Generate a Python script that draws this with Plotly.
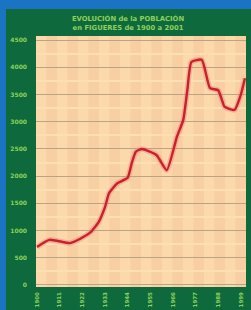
import plotly.graph_objects as go

# ---- data ----
years = [1900, 1906, 1916, 1921, 1926, 1930, 1933, 1935, 1939, 1944, 1946, 1948,
         1951, 1958, 1963, 1968, 1971, 1973, 1975, 1980, 1984, 1988, 1991, 1993,
         1996, 1999, 2001]
population = [700, 830, 770, 850, 970, 1160, 1430, 1690, 1870, 1970, 2240, 2450,
              2500, 2390, 2110, 2730, 3030, 3580, 4100, 4140, 3620, 3580, 3280, 3240,
              3220, 3500, 3800]
y_ticks = [0, 500, 1000, 1500, 2000, 2500, 3000, 3500, 4000, 4500]
x_ticks = [1900, 1911, 1922, 1933, 1944, 1955, 1966, 1977, 1988, 1999]
title_lines = ["EVOLUCIÓN de la POBLACIÓN", "en FIGUERES de 1900 a 2001"]

BLUE = "#1b74c3"
GREEN = "#0e6a3c"
PEACH = "#f8cfa2"
LABEL = "#8fd05a"

fig = go.Figure()
# soft halo under the line
fig.add_trace(go.Scatter(x=years, y=population, mode="lines",
                         line=dict(color="rgba(240,120,120,0.4)", width=5.5,
                                   shape="spline", smoothing=0.5),
                         hoverinfo="skip", showlegend=False))
fig.add_trace(go.Scatter(x=years, y=population, mode="lines",
                         line=dict(color="#c8202c", width=2.4,
                                   shape="spline", smoothing=0.5),
                         showlegend=False))

shapes = [
    # blue frame on top and left
    dict(type="rect", xref="paper", yref="paper", x0=-0.3, x1=1.2, y0=1.108, y1=1.3,
         fillcolor=BLUE, line_width=0, layer="below"),
    dict(type="rect", xref="paper", yref="paper", x0=-0.3, x1=-0.143, y0=-0.2, y1=1.3,
         fillcolor=BLUE, line_width=0, layer="below"),
]
# subtle vertical stripes in the plot background
n_stripes = 20
for i in range(n_stripes):
    if i % 2 == 0:
        shapes.append(dict(type="rect", xref="paper", yref="paper",
                           x0=i / n_stripes, x1=(i + 1) / n_stripes, y0=0, y1=1,
                           fillcolor="rgba(255,232,185,0.4)", line_width=0,
                           layer="below"))

fig.update_layout(
    width=251, height=310,
    margin=dict(l=36, r=5, t=36, b=23, autoexpand=False),
    paper_bgcolor=GREEN,
    plot_bgcolor=PEACH,
    shapes=shapes,
    title=dict(text="<br>".join(title_lines), x=0.51, xref="container",
               y=0.932, yref="container", xanchor="center", yanchor="middle",
               font=dict(family="DejaVu Sans", size=6.8, color=LABEL,
                         weight="bold")),
    xaxis=dict(range=[1899.5, 2001.5], tickvals=x_ticks,
               ticktext=[str(v) for v in x_ticks], tickangle=-90,
               showgrid=False, zeroline=False, showline=False,
               tickfont=dict(family="DejaVu Sans", size=5.5, color=LABEL,
                             weight="bold"),
               ticks="", ticklabelstandoff=3),
    yaxis=dict(range=[-37, 4577], tickvals=y_ticks,
               ticktext=[str(v) for v in y_ticks],
               showgrid=True, gridcolor="#b9a486", gridwidth=1.3,
               minor=dict(tickvals=[250, 750, 1250, 1750, 2250, 2750, 3250, 3750, 4250],
                          showgrid=True, gridcolor="#fce0b4", gridwidth=2),
               zeroline=False, showline=False, ticks="",
               tickfont=dict(family="DejaVu Sans", size=6, color=LABEL,
                             weight="bold"),
               ticklabelstandoff=8),
)

fig.write_html(
    "out.html",
    config={"displayModeBar": False},
    post_script="document.body.style.margin='0';"
                "document.body.style.background='" + BLUE + "';",
)
